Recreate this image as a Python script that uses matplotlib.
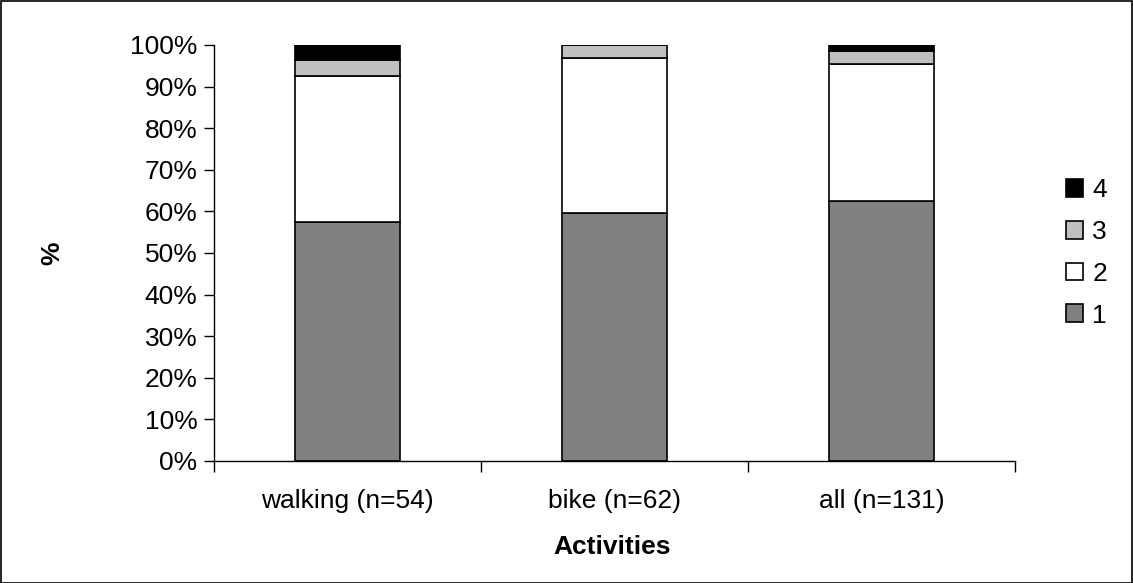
import matplotlib
matplotlib.use("Agg")
import matplotlib.pyplot as plt
from matplotlib.patches import Rectangle, Patch
from matplotlib.ticker import FuncFormatter, FixedLocator
import numpy as np

plt.rcParams['font.family'] = ['Liberation Sans', 'DejaVu Sans']

categories = ["walking (n=54)", "bike (n=62)", "all (n=131)"]
series_names = ["1", "2", "3", "4"]
s1 = [57.4, 59.7, 62.6]
s2 = [35.2, 37.1, 32.8]
s3 = [3.7, 3.2, 3.1]
s4 = [3.7, 0.0, 1.5]
series = [s1, s2, s3, s4]
colors = ["#808080", "#ffffff", "#c0c0c0", "#000000"]

FS = 19
W, H = 1133, 583
fig = plt.figure(figsize=(W / 100, H / 100), dpi=100)
ax = fig.add_axes([214 / W, 1 - 461 / H, (1015 - 214) / W, (461 - 45) / H])

x = np.arange(len(categories))
bottom = np.zeros(len(categories))
for vals, col, name in zip(series, colors, series_names):
    ax.bar(x, vals, bottom=bottom, width=0.39, color=col, edgecolor="black",
           linewidth=1.2, label=name, zorder=2)
    bottom += np.array(vals)

ax.set_xlim(-0.5, 2.5)
ax.set_ylim(0, 100)
ax.set_yticks(np.arange(0, 101, 10))
ax.yaxis.set_major_formatter(FuncFormatter(lambda v, p: f"{int(v)}%"))
ax.set_xticks(x)
ax.set_xticklabels(categories)
ax.xaxis.set_minor_locator(FixedLocator([-0.5, 0.5, 1.5, 2.5]))
ax.tick_params(axis="x", which="major", length=0, pad=20, labelsize=FS)
ax.tick_params(axis="x", which="minor", length=8, width=1, direction="out")
ax.tick_params(axis="y", length=7, width=1, direction="out", labelsize=FS, pad=5)

for s in ["top", "right"]:
    ax.spines[s].set_visible(False)
for s in ["left", "bottom"]:
    ax.spines[s].set_linewidth(1)

ax.set_xlabel("Activities", fontsize=FS, fontweight="bold")
ax.set_ylabel("%", fontsize=FS, fontweight="bold")
ax.xaxis.set_label_coords((612 - 214) / (1015 - 214), -(547 - 461) / (461 - 45), transform=ax.transAxes)
ax.yaxis.set_label_coords(-(214 - 52) / (1015 - 214), (461 - 253) / (461 - 45), transform=ax.transAxes)
ax.xaxis.label.set_va("center")
ax.yaxis.label.set_va("center")

handles = [Patch(facecolor=c, edgecolor="black", linewidth=1.2, label=n)
           for c, n in zip(colors, series_names)][::-1]
fig.legend(handles=handles, loc="center left", bbox_to_anchor=(1066 / W, 1 - 253 / H),
           frameon=False, fontsize=FS, handlelength=0.65, handleheight=0.65,
           handletextpad=0.35, labelspacing=0.67, borderpad=0, borderaxespad=0)

fig.add_artist(Rectangle((0.5 / W, 0.5 / H), 1 - 1.5 / W, 1 - 1.5 / H,
                         transform=fig.transFigure, fill=False,
                         edgecolor="black", linewidth=1.2))

fig.savefig("out.png", dpi=100)
